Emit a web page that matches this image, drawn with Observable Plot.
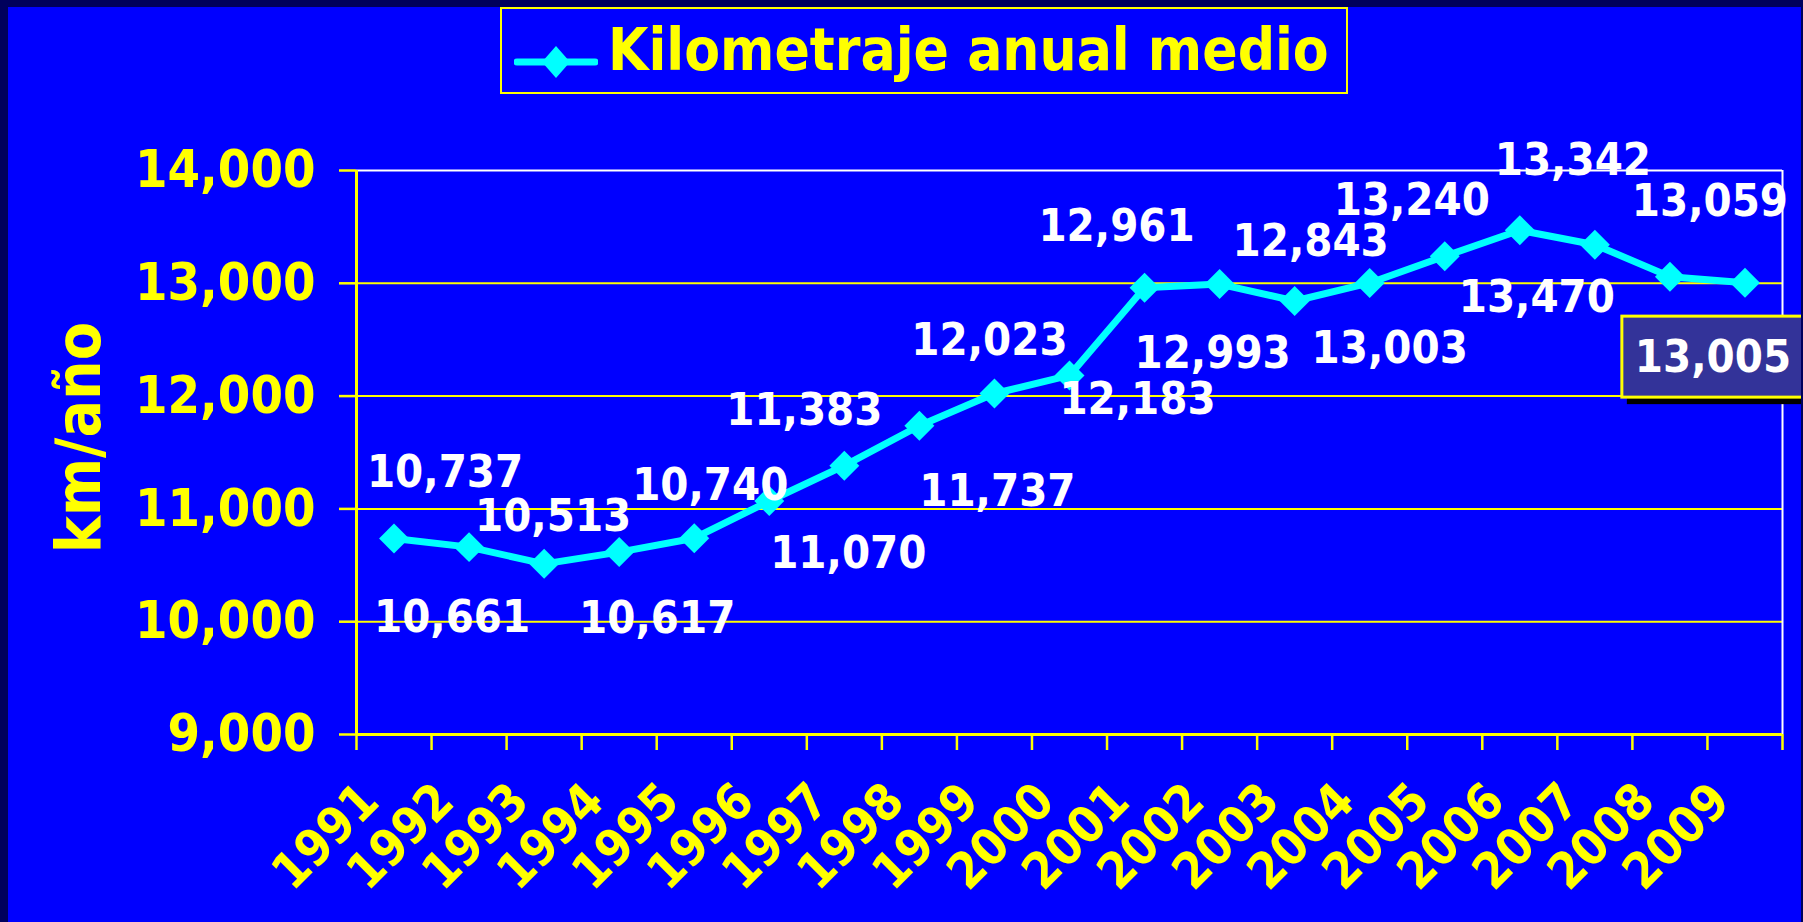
<!DOCTYPE html>
<html>
<head>
<meta charset="utf-8">
<script src="https://cdn.jsdelivr.net/npm/d3@7"></script>
<script src="https://cdn.jsdelivr.net/npm/@observablehq/plot@0.6"></script>
<style>
  html, body { margin: 0; padding: 0; background: #0000FF; overflow: hidden; width: 1803px; height: 922px; }
  body { position: relative; font-family: "DejaVu Sans Condensed", "DejaVu Sans", sans-serif; }
  .edge { position: absolute; background: #00005C; z-index: 5; }
  #header { position: relative; height: 100px; }
  #legend { position: absolute; left: 500px; top: 7px; width: 844px; height: 83px; border: 2px solid #FFFF00; box-sizing: content-box; }
  #legend svg { position: absolute; left: 12px; top: 24px; }
  #legend span { position: absolute; left: 106px; top: 6px; color: #FFFF00; font-weight: bold; font-size: 58px; line-height: 70px; white-space: nowrap; }
  #chart svg { display: block; }
</style>
</head>
<body>
<div class="edge" style="left:0;top:0;width:1803px;height:7px"></div>
<div class="edge" style="left:0;top:0;width:8px;height:922px"></div>
<div class="edge" style="right:0;top:0;width:2px;height:922px"></div>
<div id="header">
  <div id="legend">
    <svg width="84" height="60" viewBox="0 0 84 60">
      <line x1="3" y1="29" x2="81" y2="29" stroke="#00FFFF" stroke-width="7" stroke-linecap="round"></line>
      <path d="M42 13 L56 29 L42 45 L28 29 Z" fill="#00FFFF"></path>
    </svg>
    <span id="legend-text"></span>
  </div>
</div>
<div id="chart"></div>
<script>
// ---- data ----
const years = [1991, 1992, 1993, 1994, 1995, 1996, 1997, 1998, 1999, 2000,
               2001, 2002, 2003, 2004, 2005, 2006, 2007, 2008, 2009];
const kmPerYear = [10737, 10661, 10513, 10617, 10740, 11070, 11383, 11737, 12023, 12183,
                   12961, 12993, 12843, 13003, 13240, 13470, 13342, 13059, 13005];
const yTicks = [9000, 10000, 11000, 12000, 13000, 14000];
const seriesName = "Kilometraje anual medio";
const yTitle = "km/año";
const boxedYear = 2009;

// ---- layout: pixel nudges of each value label relative to its point ----
const labelNudge = {
  1991: [51, -66], 1992: [-17, 70], 1993: [9, -47], 1994: [38, 66], 1995: [16, -53],
  1996: [79, 53], 1997: [-40, -55], 1998: [78, 66], 1999: [-5, -53], 2000: [68, 24],
  2001: [-28, -61], 2002: [-7, 70], 2003: [16, -59], 2004: [20, 66], 2005: [-33, -56],
  2006: [17, 67], 2007: [-22, -84], 2008: [40, -75], 2009: [-32, 75]
};

document.getElementById("legend-text").textContent = seriesName;

// ---- derived ----
const data = years.map((year, i) => ({year, km: kmPerYear[i]}));
const fmt = d3.format(",");
const xMin = d3.min(years) - 0.5, xMax = d3.max(years) + 0.5;
const boundaries = d3.range(xMin, xMax + 0.01, 1);
const yMin = d3.min(yTicks), yMax = d3.max(yTicks);

const YELLOW = "#FFFF00", CYAN = "#00FFFF", WHITE = "#FFFFFF";
const FONT = "'DejaVu Sans Condensed', 'DejaVu Sans', sans-serif";

const labelMarks = data.map(d => Plot.text([d], {
  x: "year", y: "km", text: v => fmt(v.km),
  dx: labelNudge[d.year][0], dy: labelNudge[d.year][1],
  fill: WHITE, fontSize: 45, fontWeight: "bold",
  className: d.year === boxedYear ? "boxed-label" : undefined
}));

const plot = Plot.plot({
  width: 1803,
  height: 822,
  marginTop: 70,
  marginBottom: 188,
  marginLeft: 356,
  marginRight: 21,
  style: {background: "transparent", overflow: "visible", fontFamily: FONT},
  x: {domain: [xMin, xMax], axis: null},
  y: {domain: [yMin, yMax], axis: null},
  marks: [
    Plot.ruleY(yTicks.filter(t => t > yMin && t < yMax), {stroke: YELLOW, strokeWidth: 2}),
    Plot.ruleY([yMax], {stroke: WHITE, strokeWidth: 2}),
    Plot.ruleX([xMax], {stroke: WHITE, strokeWidth: 2}),
    Plot.ruleY([yMin], {stroke: YELLOW, strokeWidth: 3}),
    Plot.ruleX([xMin], {stroke: YELLOW, strokeWidth: 3}),
    Plot.axisY({
      ticks: yTicks, tickSize: 17, tickPadding: 24, tickFormat: fmt,
      stroke: YELLOW, fill: YELLOW, strokeWidth: 2.5,
      fontSize: 52, fontWeight: "bold", label: null
    }),
    Plot.axisX({
      ticks: boundaries, tickSize: 16, tickFormat: () => "",
      stroke: YELLOW, strokeWidth: 2.5, label: null
    }),
    Plot.axisX({
      ticks: years, tickSize: 0, tickRotate: -45, tickFormat: d => String(d),
      fill: YELLOW, fontSize: 50, fontWeight: "bold", tickPadding: 58, dx: -24, label: null
    }),
    Plot.text([yTitle], {
      frameAnchor: "left", textAnchor: "middle", rotate: -90, dx: -276, dy: -15,
      fill: YELLOW, fontSize: 62, fontWeight: "bold"
    }),
    Plot.line(data, {x: "year", y: "km", stroke: CYAN, strokeWidth: 7}),
    Plot.dot(data, {x: "year", y: "km", symbol: "diamond2", r: 13.5, fill: CYAN, stroke: "none"}),
    ...labelMarks
  ]
});

document.getElementById("chart").appendChild(plot);

// background box with shadow behind the boxed data label
const boxedText = plot.querySelector(".boxed-label text");
if (boxedText) {
  const bb = boxedText.getBBox();
  const padX = 13, padY = 16;
  const g = boxedText.parentNode;
  const ns = "http://www.w3.org/2000/svg";
  const tr = boxedText.getAttribute("transform");
  const mk = (ox, oy, fill, stroke) => {
    const r = document.createElementNS(ns, "rect");
    r.setAttribute("x", bb.x - padX + ox);
    r.setAttribute("y", bb.y - padY + oy + 2);
    r.setAttribute("width", bb.width + 2 * padX);
    r.setAttribute("height", bb.height + 2 * padY - 4);
    r.setAttribute("fill", fill);
    if (stroke) { r.setAttribute("stroke", stroke); r.setAttribute("stroke-width", 3); }
    if (tr) r.setAttribute("transform", tr);
    return r;
  };
  g.insertBefore(mk(5, 7, "#000000"), boxedText);
  g.insertBefore(mk(0, 0, "#333399", YELLOW), boxedText);
}
</script>
</body>
</html>
